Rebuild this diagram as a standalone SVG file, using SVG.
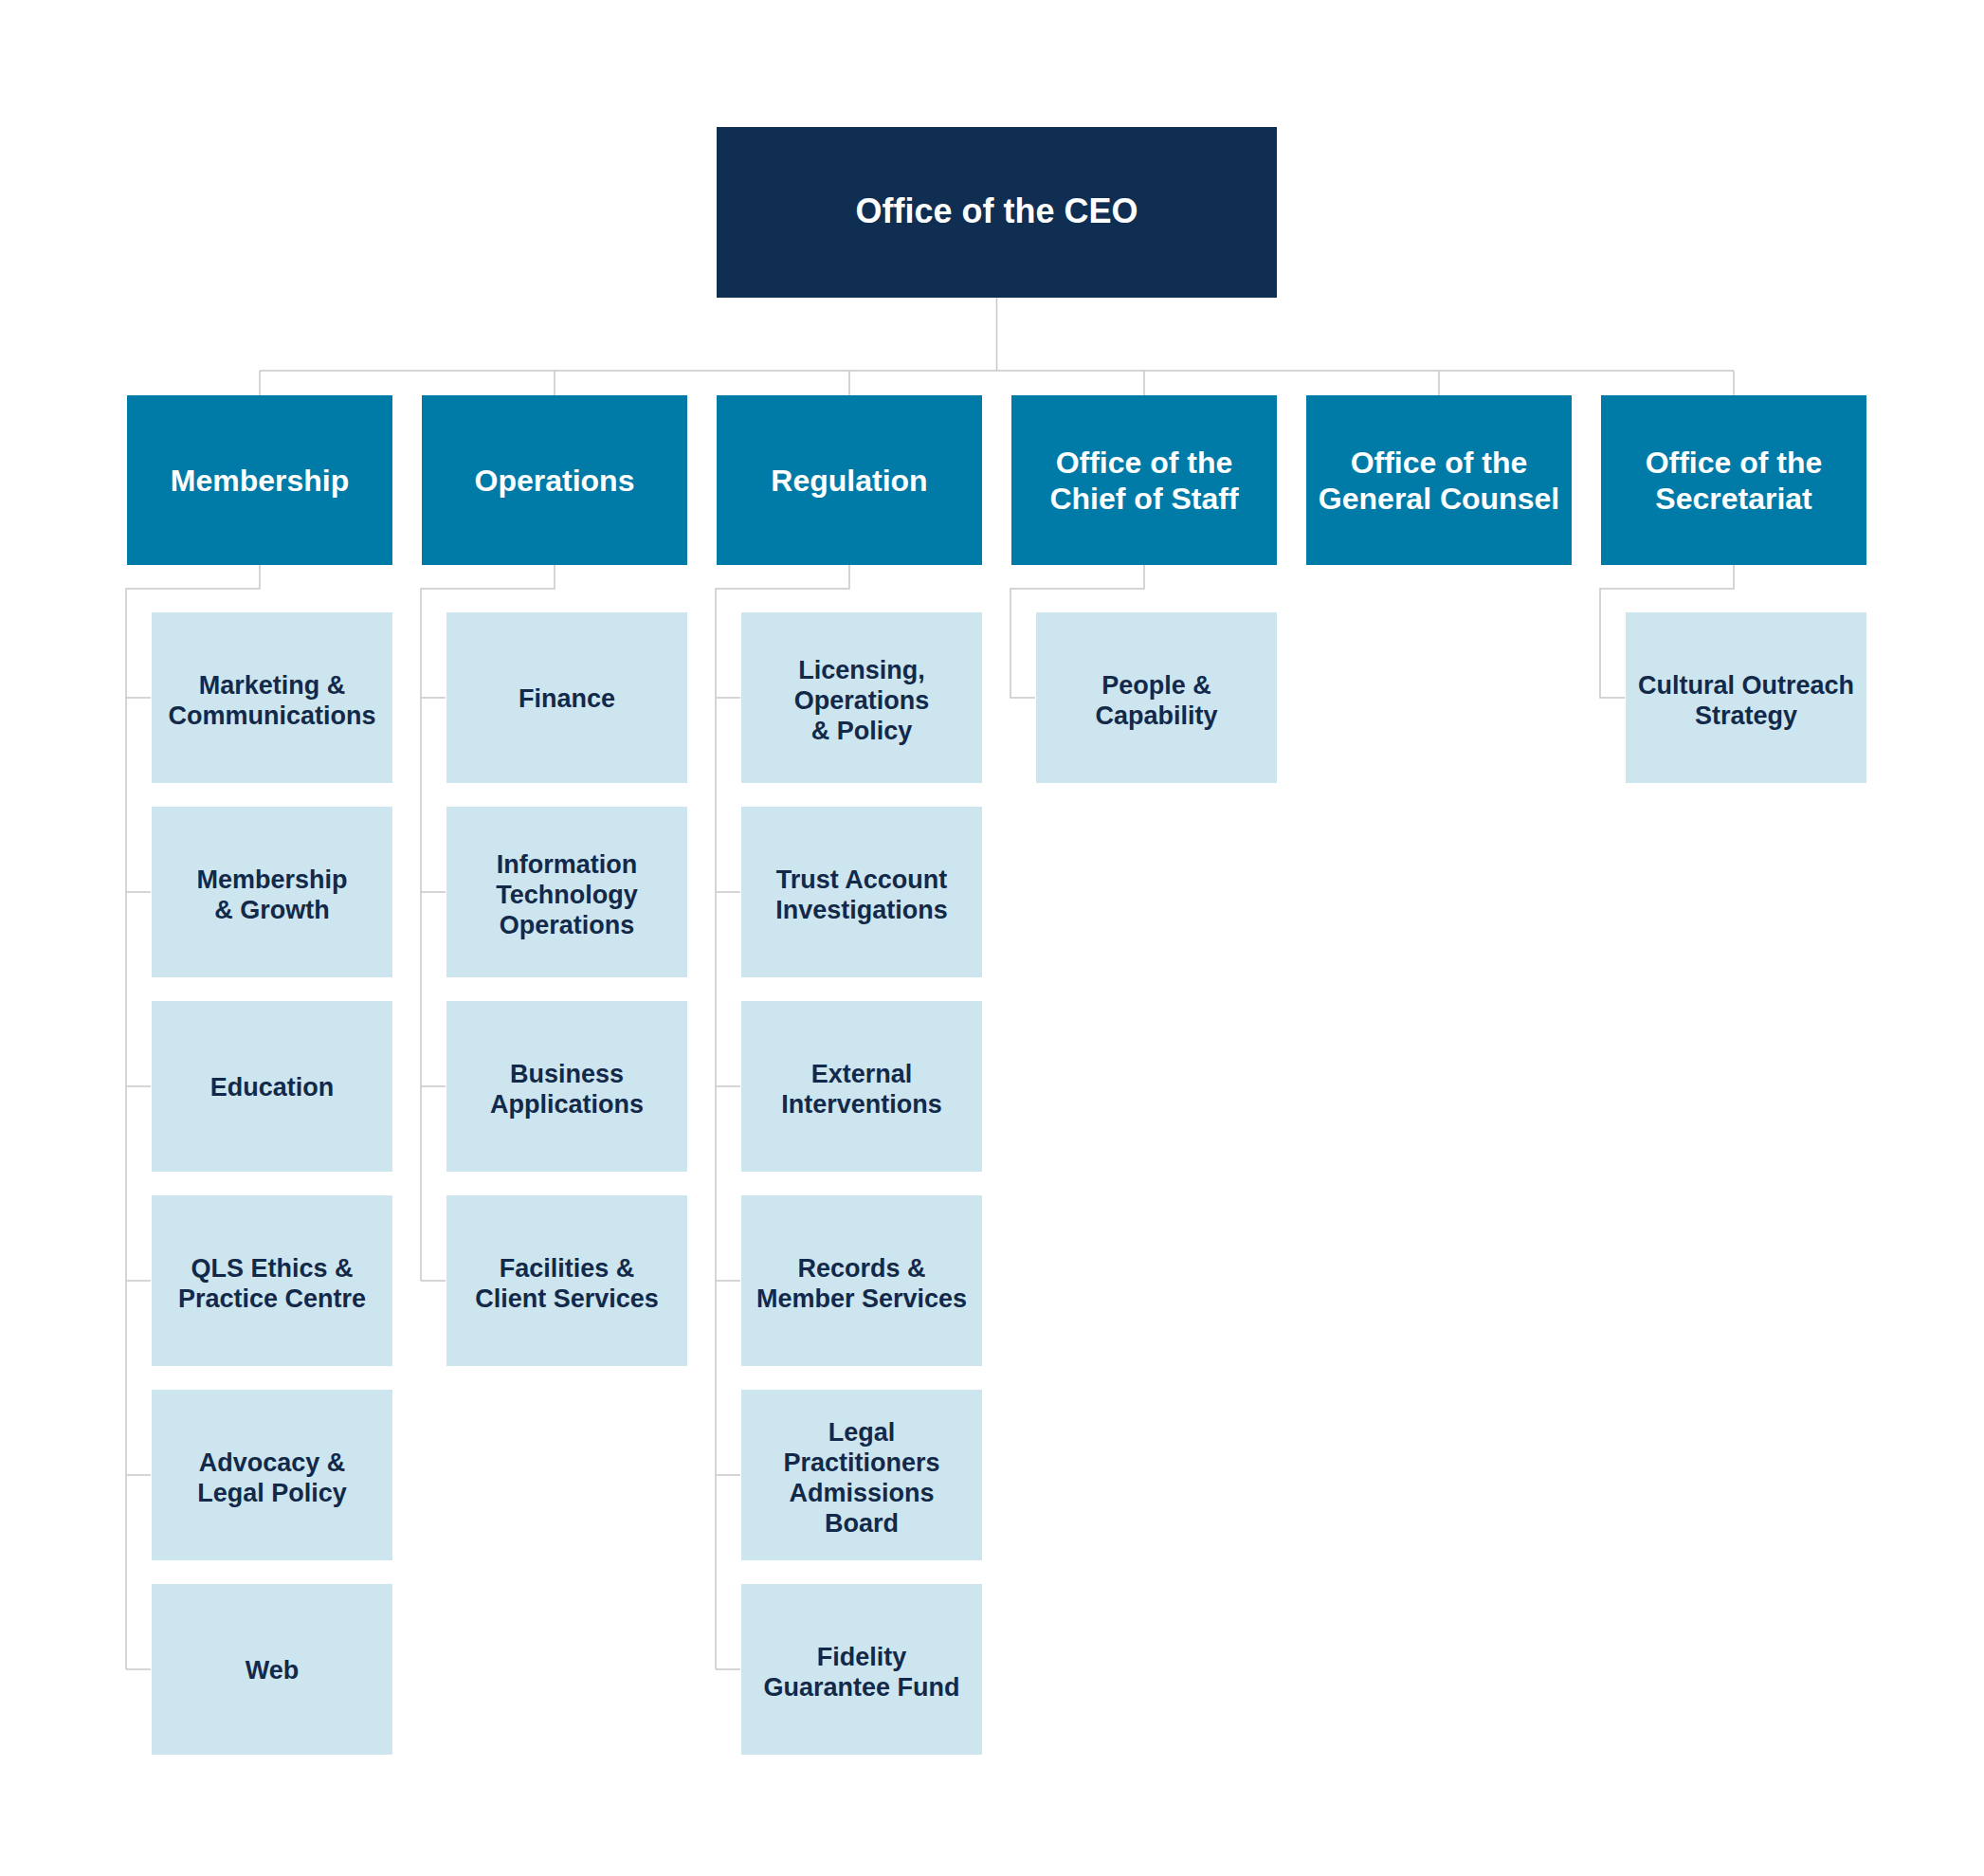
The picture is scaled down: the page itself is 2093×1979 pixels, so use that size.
<svg xmlns="http://www.w3.org/2000/svg" width="2093" height="1979" viewBox="0 0 2093 1979">
<style>
.ceo{fill:#102d52}.hd{fill:#007ba8}.ch{fill:#cde5ef}
text{font-family:"Liberation Sans",Arial,sans-serif;font-weight:bold;text-anchor:middle}
.tw{fill:#fff;font-size:32px}.tc{fill:#12294a;font-size:27px}
.ln{fill:none;stroke:#c8c8c8;stroke-width:1.5}
</style>
<rect width="2093" height="1979" fill="#fff"/>
<g id="connectors" class="ln">
<path d="M1051.5 314V391M274 391H1829M274 391V417M585 391V417M896 391V417M1207 391V417M1518 391V417M1829 391V417"/>
<path d="M274 596V621H133V1761M133 736H159M133 941H159M133 1146H159M133 1351H159M133 1556H159M133 1761H159"/>
<path d="M585 596V621H444V1351M444 736H470M444 941H470M444 1146H470M444 1351H470"/>
<path d="M896 596V621H755V1761M755 736H781M755 941H781M755 1146H781M755 1351H781M755 1556H781M755 1761H781"/>
<path d="M1207 596V621H1066V736H1092"/>
<path d="M1829 596V621H1688V736H1714"/>
</g>
<g id="ceo"><rect class="ceo" x="756" y="134" width="591" height="180"/><text class="tw" x="1051.5" y="235" font-size="36" style="font-size:36px">Office of the CEO</text></g>
<g id="membership"><rect class="hd" x="134" y="417" width="280" height="179"/><text class="tw" x="274" y="518">Membership</text></g>
<g id="operations"><rect class="hd" x="445" y="417" width="280" height="179"/><text class="tw" x="585" y="518">Operations</text></g>
<g id="regulation"><rect class="hd" x="756" y="417" width="280" height="179"/><text class="tw" x="896" y="518">Regulation</text></g>
<g id="chief-of-staff"><rect class="hd" x="1067" y="417" width="280" height="179"/><text class="tw" x="1207" y="499">Office of the</text><text class="tw" x="1207" y="537">Chief of Staff</text></g>
<g id="general-counsel"><rect class="hd" x="1378" y="417" width="280" height="179"/><text class="tw" x="1518" y="499">Office of the</text><text class="tw" x="1518" y="537">General Counsel</text></g>
<g id="secretariat"><rect class="hd" x="1689" y="417" width="280" height="179"/><text class="tw" x="1829" y="499">Office of the</text><text class="tw" x="1829" y="537">Secretariat</text></g>

<g id="marketing"><rect class="ch" x="160" y="646" width="254" height="180"/><text class="tc" x="287" y="732">Marketing &amp;</text><text class="tc" x="287" y="764">Communications</text></g>
<g id="membership-growth"><rect class="ch" x="160" y="851" width="254" height="180"/><text class="tc" x="287" y="937">Membership</text><text class="tc" x="287" y="969">&amp; Growth</text></g>
<g id="education"><rect class="ch" x="160" y="1056" width="254" height="180"/><text class="tc" x="287" y="1156">Education</text></g>
<g id="qls-ethics"><rect class="ch" x="160" y="1261" width="254" height="180"/><text class="tc" x="287" y="1347">QLS Ethics &amp;</text><text class="tc" x="287" y="1379">Practice Centre</text></g>
<g id="advocacy"><rect class="ch" x="160" y="1466" width="254" height="180"/><text class="tc" x="287" y="1552">Advocacy &amp;</text><text class="tc" x="287" y="1584">Legal Policy</text></g>
<g id="web"><rect class="ch" x="160" y="1671" width="254" height="180"/><text class="tc" x="287" y="1771">Web</text></g>

<g id="finance"><rect class="ch" x="471" y="646" width="254" height="180"/><text class="tc" x="598" y="746">Finance</text></g>
<g id="it-operations"><rect class="ch" x="471" y="851" width="254" height="180"/><text class="tc" x="598" y="921">Information</text><text class="tc" x="598" y="953">Technology</text><text class="tc" x="598" y="985">Operations</text></g>
<g id="business-apps"><rect class="ch" x="471" y="1056" width="254" height="180"/><text class="tc" x="598" y="1142">Business</text><text class="tc" x="598" y="1174">Applications</text></g>
<g id="facilities"><rect class="ch" x="471" y="1261" width="254" height="180"/><text class="tc" x="598" y="1347">Facilities &amp;</text><text class="tc" x="598" y="1379">Client Services</text></g>

<g id="licensing"><rect class="ch" x="782" y="646" width="254" height="180"/><text class="tc" x="909" y="716">Licensing,</text><text class="tc" x="909" y="748">Operations</text><text class="tc" x="909" y="780">&amp; Policy</text></g>
<g id="trust-account"><rect class="ch" x="782" y="851" width="254" height="180"/><text class="tc" x="909" y="937">Trust Account</text><text class="tc" x="909" y="969">Investigations</text></g>
<g id="external"><rect class="ch" x="782" y="1056" width="254" height="180"/><text class="tc" x="909" y="1142">External</text><text class="tc" x="909" y="1174">Interventions</text></g>
<g id="records"><rect class="ch" x="782" y="1261" width="254" height="180"/><text class="tc" x="909" y="1347">Records &amp;</text><text class="tc" x="909" y="1379">Member Services</text></g>
<g id="lpab"><rect class="ch" x="782" y="1466" width="254" height="180"/><text class="tc" x="909" y="1520">Legal</text><text class="tc" x="909" y="1552">Practitioners</text><text class="tc" x="909" y="1584">Admissions</text><text class="tc" x="909" y="1616">Board</text></g>
<g id="fidelity"><rect class="ch" x="782" y="1671" width="254" height="180"/><text class="tc" x="909" y="1757">Fidelity</text><text class="tc" x="909" y="1789">Guarantee Fund</text></g>

<g id="people"><rect class="ch" x="1093" y="646" width="254" height="180"/><text class="tc" x="1220" y="732">People &amp;</text><text class="tc" x="1220" y="764">Capability</text></g>
<g id="cultural"><rect class="ch" x="1715" y="646" width="254" height="180"/><text class="tc" x="1842" y="732">Cultural Outreach</text><text class="tc" x="1842" y="764">Strategy</text></g>
</svg>
